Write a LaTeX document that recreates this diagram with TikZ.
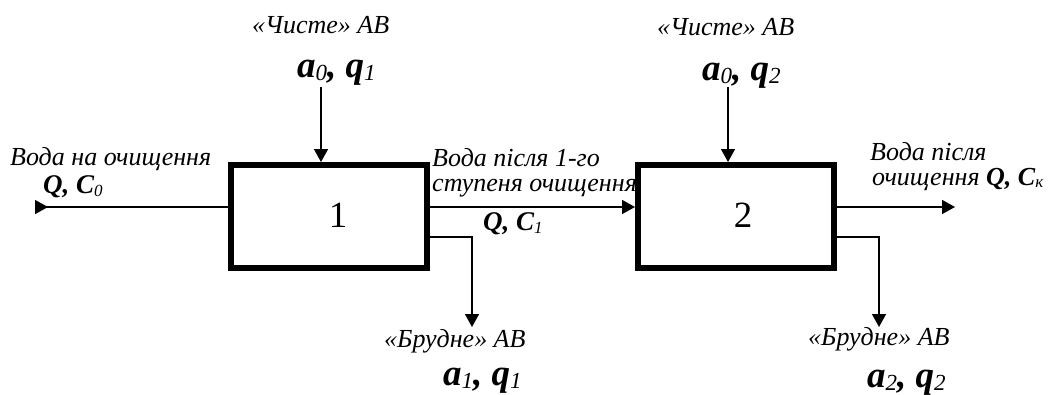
\documentclass[tikz,border=0pt]{standalone}
\usepackage{fontspec}
\setmainfont{Liberation Serif}
\usetikzlibrary{arrows.meta}
\newcommand{\sbs}[1]{\raisebox{-0.25ex}{\fontsize{17}{17}\selectfont\mdseries\itshape #1}}
\newcommand{\bsbs}[1]{\raisebox{-0.2ex}{\fontsize{23}{23}\selectfont\mdseries\itshape #1}}
\begin{document}
\begin{tikzpicture}[x=1pt,y=-1pt,
  procbox/.style={draw, line width=6pt, minimum width=196pt, minimum height=103pt, inner sep=0pt},
  numlbl/.style={font=\fontsize{37}{40}\selectfont, inner sep=0pt},
  flow/.style={line width=1.5pt, -{Triangle[length=13pt,width=14pt]}},
  lbl/.style={font=\fontsize{26}{30}\selectfont\itshape, inner sep=0pt, anchor=base west},
  big/.style={font=\fontsize{37}{40}\selectfont\bfseries\itshape, inner sep=0pt, anchor=base west},
  qlbl/.style={font=\fontsize{27}{30}\selectfont\bfseries\itshape, inner sep=0pt, anchor=base west}]
\useasboundingbox (0,0) rectangle (1054,394);
% boxes
\node[procbox] (b1) at (329,216.5) {};
\node[procbox] (b2) at (736,216.5) {};
\node[numlbl] (n1) at (338,215) {1};
\node[numlbl] (n2) at (743,215) {2};
% coordinates
\coordinate (in) at (35,207);
\coordinate (out) at (955,207);
\coordinate (t1) at (321,87);
\coordinate (t2) at (728,87);
\coordinate (d1) at (472,327);
\coordinate (d2) at (879,327);
\coordinate (s1) at (427,237);
\coordinate (s2) at (833,237);
% connectors
\draw[line width=1.5pt, {Triangle[reversed,length=13pt,width=14pt]}-] (in) -- (in -| b1.west);
\draw[flow] (in -| b1.east) -- (in -| b2.west);
\draw[flow] (in -| b2.east) -- (out);
\draw[flow] (t1) -- (t1 |- b1.north);
\draw[flow] (t2) -- (t2 |- b2.north);
\draw[flow] (s1 -| b1.east) -| (d1);
\draw[flow] (s2 -| b2.east) -| (d2);
% labels
\node[lbl] (c1) at (252,33) {«Чисте» АВ};
\node[big] (p1) at (297,77) {a\bsbs{0}, q\bsbs{1}};
\node[lbl] (c2) at (657,35) {«Чисте» АВ};
\node[big] (p2) at (702,80) {a\bsbs{0}, q\bsbs{2}};
\node[lbl] (w1) at (10,165) {Вода на очищення};
\node[qlbl] (q0) at (43,193) {Q, C\sbs{0}};
\node[lbl] (w2a) at (432,166) {Вода після 1-го};
\node[lbl] (w2b) at (432,191) {ступеня очищення};
\node[qlbl] (q1) at (483,230) {Q, C\sbs{1}};
\node[lbl] (w3a) at (870,160) {Вода після};
\node[lbl] (w3b) at (872,185) {очищення \textbf{Q, C\sbs{к}}};
\node[lbl] (r1) at (384,347) {«Брудне» АВ};
\node[big] (m1) at (443,385) {a\bsbs{1}, q\bsbs{1}};
\node[lbl] (r2) at (808,345) {«Брудне» АВ};
\node[big] (m2) at (867,387) {a\bsbs{2}, q\bsbs{2}};
\end{tikzpicture}
\end{document}
